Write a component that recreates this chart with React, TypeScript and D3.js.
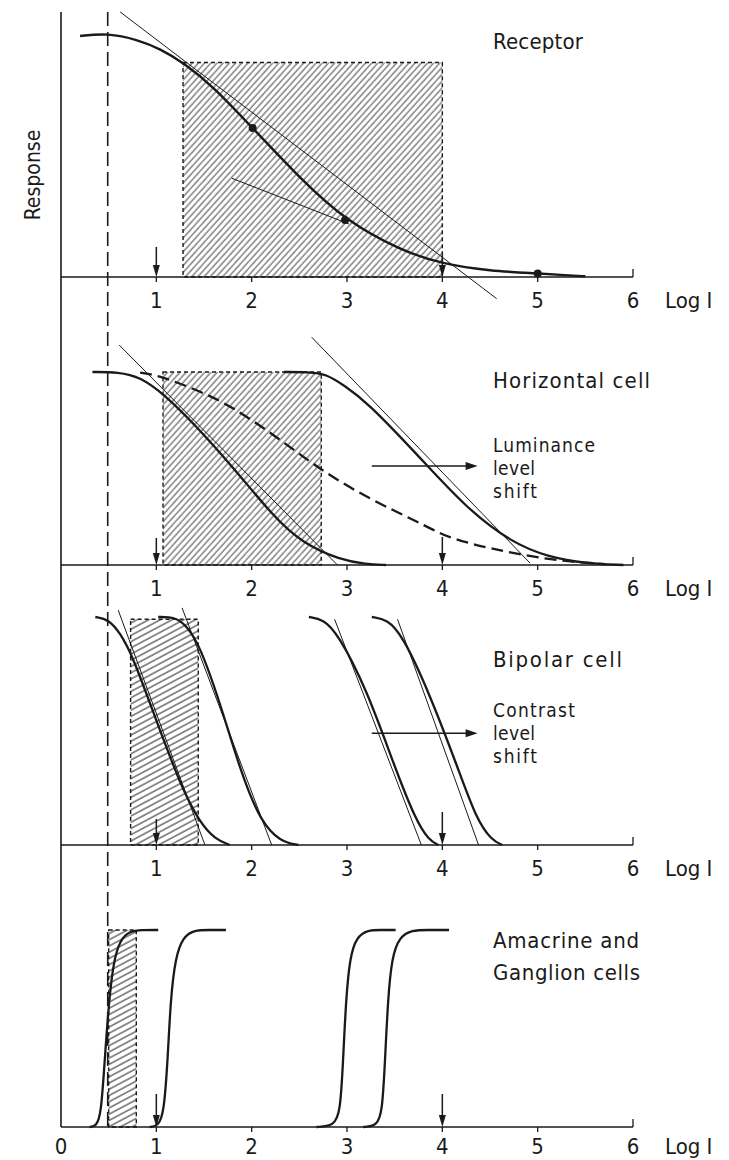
import React from "react";
import * as d3 from "d3";

type Pt = [number, number];

// axis values
const xTicks = [1, 2, 3, 4, 5, 6];
const xTicksBottom = [0, 1, 2, 3, 4, 5, 6];
const markerAt = [1, 4];
const dashedRef = 0.49;

// Receptor
const receptorCurve: Pt[] = [
  [0.2, 1.0], [0.49, 1.012], [0.8, 0.985], [1.05, 0.945], [1.28, 0.89], [1.6, 0.79],
  [2.01, 0.618], [2.53, 0.4], [2.98, 0.236], [3.56, 0.11], [4.0, 0.054], [4.5, 0.025],
  [5.0, 0.015], [5.3, 0.007], [5.5, 0.003],
];
const receptorDots: Pt[] = [[2.01, 0.618], [2.98, 0.236], [5.0, 0.015]];
const receptorTangents: Pt[][] = [
  [[0.62, 1.1], [4.57, -0.09]],
  [[1.79, 0.41], [3.02, 0.22]],
];
const receptorWindow = { from: 1.28, to: 4.0, top: 0.89 };

// Horizontal cell
const horizCurveA: Pt[] = [
  [0.33, 1.0], [0.6, 1.0], [0.83, 0.975], [1.09, 0.88], [1.36, 0.75], [1.8, 0.51],
  [2.23, 0.25], [2.53, 0.114], [2.93, 0.026], [3.2, 0.005], [3.41, 0],
];
const horizCurveB: Pt[] = [
  [2.34, 1.0], [2.6, 1.0], [2.78, 0.99], [2.97, 0.93], [3.21, 0.845], [3.76, 0.56], [4.24, 0.3],
  [4.73, 0.114], [5.12, 0.041], [5.5, 0.008], [5.9, 0],
];
const horizDashed: Pt[] = [
  [0.83, 0.997], [1.04, 0.98], [1.46, 0.9], [1.8, 0.82], [2.3, 0.65], [2.73, 0.49],
  [3.24, 0.34], [3.76, 0.22], [4.0, 0.155], [4.29, 0.11], [4.73, 0.062], [5.23, 0.02],
  [5.71, 0.005],
];
const horizTangents: Pt[][] = [
  [[0.61, 1.14], [2.9, 0]],
  [[2.63, 1.18], [4.92, 0.01]],
];
const horizWindow = { from: 1.07, to: 2.73, top: 1.0 };
const luminanceShift = { from: 3.26, to: 4.37, level: 0.513 };

// Bipolar cell
const bipolarCurves: Pt[][] = [
  [[0.36, 1.0], [0.5, 0.99], [0.62, 0.93], [0.75, 0.83], [0.97, 0.58], [1.26, 0.254], [1.46, 0.096], [1.62, 0.025], [1.77, 0]],
  [[1.02, 1.0], [1.2, 1.0], [1.32, 0.96], [1.45, 0.88], [1.66, 0.636], [1.9, 0.3], [2.1, 0.1], [2.3, 0.015], [2.49, 0]],
  [[2.6, 1.0], [2.75, 0.99], [2.9, 0.93], [3.21, 0.68], [3.5, 0.342], [3.72, 0.11], [3.86, 0.02], [3.96, 0]],
  [[3.26, 1.0], [3.42, 0.99], [3.58, 0.92], [3.85, 0.68], [4.16, 0.342], [4.36, 0.11], [4.52, 0.02], [4.63, 0]],
];
const bipolarTangents: Pt[][] = [
  [[0.6, 1.03], [1.51, 0]],
  [[1.27, 1.04], [2.21, 0]],
  [[2.87, 0.99], [3.78, 0]],
  [[3.53, 0.99], [4.38, 0]],
];
const bipolarWindow = { from: 0.73, to: 1.44, top: 0.99 };
const contrastShift = { from: 3.26, to: 4.37, level: 0.49 };

// Amacrine and ganglion cells
const amacrineCurves: Pt[][] = [
  [[0.3, 0], [0.37, 0.005], [0.42, 0.06], [0.46, 0.35], [0.5, 0.62], [0.55, 0.84], [0.62, 0.95], [0.72, 0.995], [0.85, 1.0], [1.02, 1.0]],
  [[0.93, 0], [1.02, 0.005], [1.08, 0.07], [1.12, 0.35], [1.15, 0.65], [1.2, 0.86], [1.28, 0.965], [1.4, 1.0], [1.55, 1.0], [1.73, 1.0]],
  [[2.68, 0], [2.86, 0.005], [2.93, 0.07], [2.96, 0.35], [2.99, 0.65], [3.03, 0.86], [3.1, 0.965], [3.22, 1.0], [3.35, 1.0], [3.51, 1.0]],
  [[3.17, 0], [3.31, 0.005], [3.37, 0.07], [3.4, 0.35], [3.43, 0.65], [3.47, 0.86], [3.55, 0.965], [3.68, 1.0], [3.85, 1.0], [4.07, 1.0]],
];
const amacrineWindow = { from: 0.5, to: 0.79, top: 1.0 };

const INK = "#1a1a1a";
const FONT = "'DejaVu Sans Condensed', 'DejaVu Sans', sans-serif";

const x = d3.scaleLinear().domain([0, 6]).range([61, 633]);

const panels = [
  { base: 277, top: 36, arrowLen: [30, 22], labelDy: 31 },
  { base: 565, top: 372, arrowLen: [27, 28], labelDy: 31 },
  { base: 845, top: 617, arrowLen: [26, 33], labelDy: 31 },
  { base: 1127, top: 930, arrowLen: [33, 33], labelDy: 27 },
];

function Panel({ idx, children, window, hatch, ticks }: any) {
  const p = panels[idx];
  const y = d3.scaleLinear().domain([0, 1]).range([p.base, p.top]);
  return (
    <g>
      <rect
        x={x(window.from)}
        y={y(window.top)}
        width={x(window.to) - x(window.from)}
        height={y(0) - y(window.top)}
        fill={`url(#${hatch})`}
        stroke={INK}
        strokeWidth={1.4}
        strokeDasharray="4 3"
      />
      <line x1={x(0)} x2={x(6)} y1={p.base} y2={p.base} stroke={INK} strokeWidth={1.6} />
      {ticks.map((t: number) => (
        <g key={t}>
          {t > 0 && (
            <line
              x1={x(t)} x2={x(t)}
              y1={p.base} y2={t === 6 ? p.base - 8 : p.base + 5}
              stroke={INK} strokeWidth={1.3}
            />
          )}
          <text x={x(t)} y={p.base + p.labelDy} textAnchor="middle" fontSize={22} fill={INK}>
            {t}
          </text>
        </g>
      ))}
      <text x={665} y={p.base + p.labelDy} fontSize={22} fill={INK}>Log I</text>
      {markerAt.map((m, i) => {
        const len = p.arrowLen[i];
        const cx = x(m);
        return (
          <g key={m}>
            <line x1={cx} x2={cx} y1={p.base - len} y2={p.base - 6} stroke={INK} strokeWidth={1.5} />
            <path d={`M${cx - 3.5},${p.base - 12} L${cx + 3.5},${p.base - 12} L${cx},${p.base} Z`} fill={INK} />
          </g>
        );
      })}
      {children(y)}
    </g>
  );
}

function HShift({ y, shift }: any) {
  const yy = y(shift.level);
  const x1 = x(shift.from);
  const x2 = x(shift.to);
  return (
    <g>
      <line x1={x1} x2={x2 - 8} y1={yy} y2={yy} stroke={INK} strokeWidth={1.4} />
      <path d={`M${x2 - 12},${yy - 4} L${x2},${yy} L${x2 - 12},${yy + 4} Z`} fill={INK} />
    </g>
  );
}

export default function App() {
  const mkLine = (y: any) =>
    d3.line<Pt>().x((d) => x(d[0])).y((d) => y(d[1])).curve(d3.curveBasis);
  const straight = (y: any) => d3.line<Pt>().x((d) => x(d[0])).y((d) => y(d[1]));

  return (
    <svg
      width={729}
      height={1160}
      style={{ position: "absolute", left: 0, top: 0, background: "#fff" }}
      fontFamily={FONT}
    >
      <defs>
        <pattern id="hatchA" width={4.6} height={10} patternUnits="userSpaceOnUse" patternTransform="rotate(42)">
          <line x1={1} x2={1} y1={0} y2={10} stroke="#555" strokeWidth={1.1} />
        </pattern>
        <pattern id="hatchB" width={5.5} height={10} patternUnits="userSpaceOnUse" patternTransform="rotate(62)">
          <line x1={1} x2={1} y1={0} y2={10} stroke="#555" strokeWidth={1.3} />
        </pattern>
      </defs>
      <rect x={0} y={0} width={729} height={1160} fill="#fff" />

      {/* shared axis and reference line */}
      <line x1={x(0)} x2={x(0)} y1={12} y2={panels[3].base} stroke={INK} strokeWidth={1.6} />
      <line
        x1={x(dashedRef)} x2={x(dashedRef)} y1={12} y2={panels[3].base}
        stroke={INK} strokeWidth={1.6} strokeDasharray="14 6"
      />
      <text transform="translate(40,175) rotate(-90)" textAnchor="middle" fontSize={21} fill={INK}>
        Response
      </text>

      <Panel idx={0} window={receptorWindow} hatch="hatchA" ticks={xTicks}>
        {(y: any) => (
          <g>
            {receptorTangents.map((t, i) => (
              <path key={i} d={straight(y)(t) || ""} stroke={INK} strokeWidth={1} fill="none" />
            ))}
            <path d={mkLine(y)(receptorCurve) || ""} stroke={INK} strokeWidth={2.4} fill="none" />
            {receptorDots.map((d, i) => (
              <circle key={i} cx={x(d[0])} cy={y(d[1])} r={4} fill={INK} />
            ))}
            <text x={493} y={49} fontSize={22} fill={INK} textLength={90} lengthAdjust="spacing">Receptor</text>
          </g>
        )}
      </Panel>

      <Panel idx={1} window={horizWindow} hatch="hatchA" ticks={xTicks}>
        {(y: any) => (
          <g>
            {horizTangents.map((t, i) => (
              <path key={i} d={straight(y)(t) || ""} stroke={INK} strokeWidth={1} fill="none" />
            ))}
            <path d={mkLine(y)(horizCurveA) || ""} stroke={INK} strokeWidth={2.3} fill="none" />
            <path d={mkLine(y)(horizCurveB) || ""} stroke={INK} strokeWidth={2.3} fill="none" />
            <path
              d={mkLine(y)(horizDashed) || ""} stroke={INK} strokeWidth={2.3} fill="none"
              strokeDasharray="12 6"
            />
            <HShift y={y} shift={luminanceShift} />
            <text x={493} y={388} fontSize={22} fill={INK} textLength={157} lengthAdjust="spacing">Horizontal cell</text>
            <text x={493} y={452} fontSize={19} fill={INK} textLength={102} lengthAdjust="spacing">Luminance</text>
            <text x={493} y={475} fontSize={19} fill={INK} textLength={42} lengthAdjust="spacing">level</text>
            <text x={493} y={498} fontSize={19} fill={INK} textLength={44} lengthAdjust="spacing">shift</text>
          </g>
        )}
      </Panel>

      <Panel idx={2} window={bipolarWindow} hatch="hatchB" ticks={xTicks}>
        {(y: any) => (
          <g>
            {bipolarTangents.map((t, i) => (
              <path key={i} d={straight(y)(t) || ""} stroke={INK} strokeWidth={1} fill="none" />
            ))}
            {bipolarCurves.map((c, i) => (
              <path key={i} d={mkLine(y)(c) || ""} stroke={INK} strokeWidth={2.3} fill="none" />
            ))}
            <HShift y={y} shift={contrastShift} />
            <text x={493} y={667} fontSize={22} fill={INK} textLength={129} lengthAdjust="spacing">Bipolar cell</text>
            <text x={493} y={717} fontSize={19} fill={INK} textLength={82} lengthAdjust="spacing">Contrast</text>
            <text x={493} y={740} fontSize={19} fill={INK} textLength={42} lengthAdjust="spacing">level</text>
            <text x={493} y={763} fontSize={19} fill={INK} textLength={44} lengthAdjust="spacing">shift</text>
          </g>
        )}
      </Panel>

      <Panel idx={3} window={amacrineWindow} hatch="hatchB" ticks={xTicksBottom}>
        {(y: any) => (
          <g>
            {amacrineCurves.map((c, i) => (
              <path key={i} d={mkLine(y)(c) || ""} stroke={INK} strokeWidth={2.3} fill="none" />
            ))}
            <text x={493} y={948} fontSize={22} fill={INK} textLength={146} lengthAdjust="spacing">Amacrine and</text>
            <text x={493} y={980} fontSize={22} fill={INK} textLength={147} lengthAdjust="spacing">Ganglion cells</text>
          </g>
        )}
      </Panel>
    </svg>
  );
}
